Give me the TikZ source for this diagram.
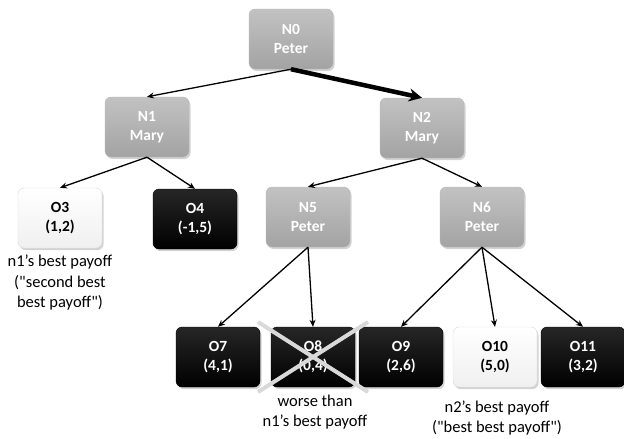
\documentclass[tikz,border=0pt]{standalone}
\usepackage{fontspec}
\setmainfont{Carlito}
\usetikzlibrary{arrows.meta,shadows}
\begin{document}
\begin{tikzpicture}[x=1pt,y=-1pt,
        font=\fontsize{15.5}{19}\selectfont\bfseries,
        box/.style={rounded corners=6pt,minimum width=84pt,minimum height=60pt,align=center,
            drop shadow={opacity=0.35,shadow xshift=1.5pt,shadow yshift=-2pt}},
        player/.style={box,text=white,top color=gray!48,bottom color=gray!72,draw=gray!55},
        bad/.style={box,text=white,top color=black!85,bottom color=black,draw=black},
        good/.style={box,text=black,top color=white,bottom color=black!6,draw=black!15},
        move/.style={-{Stealth[length=7pt,width=6pt]},line width=1.3pt},
        note/.style={align=center,font=\fontsize{16.5}{20.5}\selectfont}]
    \useasboundingbox (0,0) rectangle (624,439);
    \node [player] (n0) at (291,39) {N0\\Peter};
    \node [player] (n1) at (147,127) {N1\\Mary};
    \node [player] (n2) at (422,128) {N2\\Mary};
    \node [good] (o3) at (60,218) {O3\\(1,2)};
    \node [bad] (o4) at (195,219) {O4\\(-1,5)};
    \node [player] (n5) at (308,217) {N5\\Peter};
    \node [player] (n6) at (482,217) {N6\\Peter};
    \node [bad] (o7) at (218,357) {O7\\(4,1)};
    \node [bad] (o8) at (313,357) {O8\\(0,4)};
    \node [bad] (o9) at (401,357) {O9\\(2,6)};
    \node [good] (o10) at (495,357) {O10\\(5,0)};
    \node [bad] (o11) at (583,357) {O11\\(3,2)};
    \draw [move] (n0.south) -- (n1.north);
    \draw [move,line width=4.5pt,-{Stealth[length=13pt,width=13pt]}] (n0.south) -- (n2.north);
    \draw [move] (n1.south) -- (o3.north);
    \draw [move] (n1.south) -- (o4.north);
    \draw [move] (n2.south) -- (n5.north);
    \draw [move] (n2.south) -- (n6.north);
    \draw [move] (n5.south) -- (o7.north);
    \draw [move] (n5.south) -- (o8.north);
    \draw [move] (n6.south) -- (o9.north);
    \draw [move] (n6.south) -- (o10.north);
    \draw [move] (n6.south) -- (o11.north);
    \draw [gray!30,line width=4pt] (258,322) -- (368,392) (368,322) -- (258,392);
    \node [note] (n1best) at (60,283) {n1’s best payoff\\(\textquotedbl second best\\best payoff\textquotedbl)};
    \node [note] (worse) at (315,412) {worse than\\n1’s best payoff};
    \node [note] (n2best) at (497,418) {n2’s best payoff\\(\textquotedbl best best payoff\textquotedbl)};
\end{tikzpicture}
\end{document}
